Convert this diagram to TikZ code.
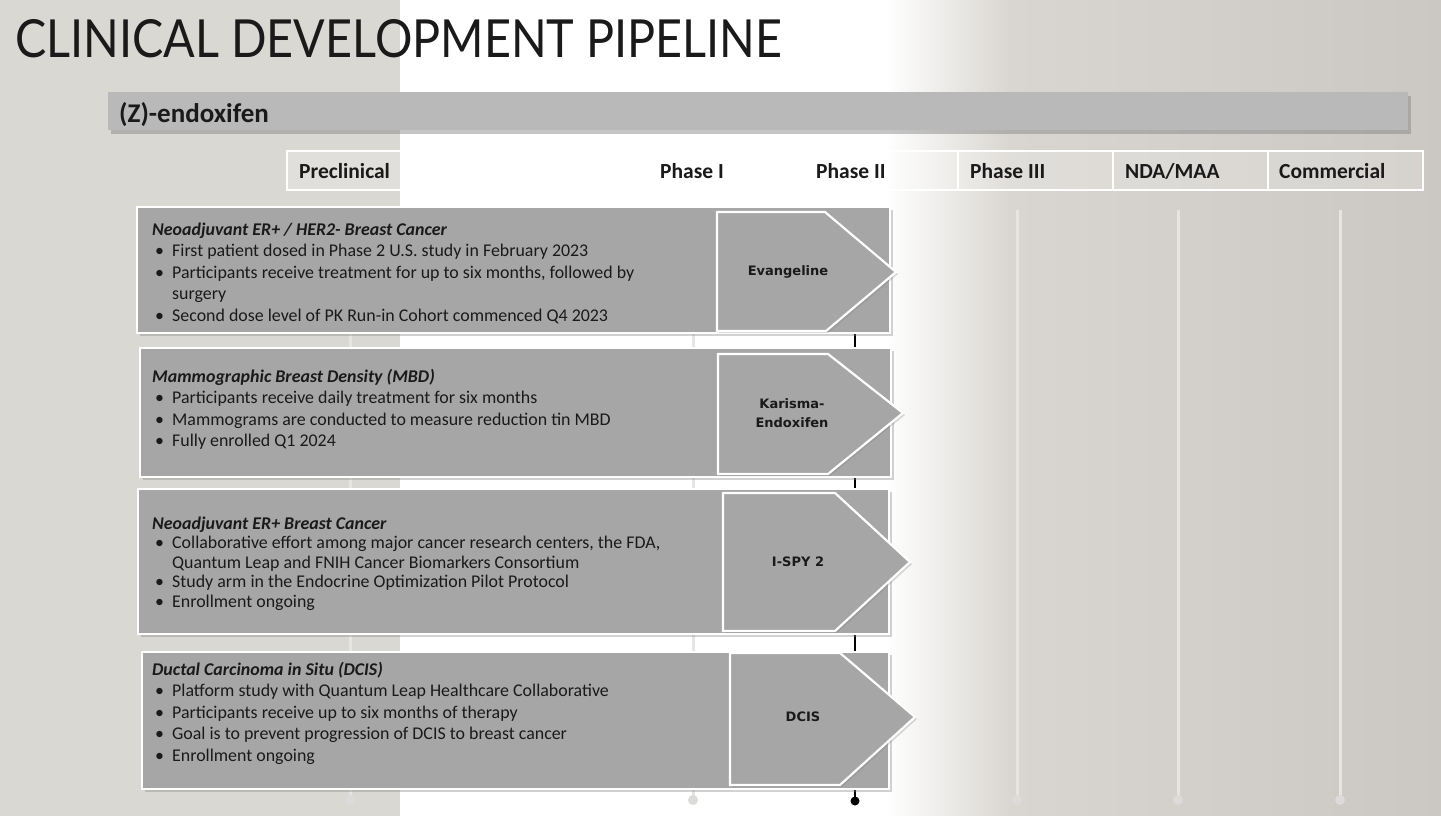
\documentclass[tikz,border=0pt]{standalone}
\usepackage{graphicx}
\usepackage{fontspec}
\setmainfont{Carlito}
\newfontfamily\titlefont{Lato}
\newfontfamily\chevfont{DejaVu Sans}
\usetikzlibrary{shadows}
\definecolor{bgleft}{HTML}{DAD8D3}
\definecolor{bgmid}{HTML}{D9D6D1}
\definecolor{bgright}{HTML}{CBC8C3}
\definecolor{panelgray}{HTML}{A6A6A6}
\definecolor{bargray}{HTML}{B9B9B9}
\definecolor{tlgray}{HTML}{E6E5E3}
\definecolor{ink}{HTML}{1A1A1A}
\newcommand\phd[1]{\hbox{\bfseries\itshape #1}}
\newcommand\pbl[1]{\hbox{\hspace*{3pt}\makebox[17pt][l]{\textbullet}#1}}
\newcommand\pcn[1]{\hbox{\hspace*{20pt}#1}}
\newcommand\plines[2]{\vtop{\baselineskip=#1pt #2}}
\begin{document}
\begin{tikzpicture}[x=1pt,y=-1pt,
  panel/.style={fill=panelgray, draw=white, line width=2pt,
    drop shadow={shadow xshift=3pt, shadow yshift=-3pt, opacity=0.35}},
  chev/.style={fill=panelgray, draw=white, line width=2.2pt, line join=miter,
    drop shadow={shadow xshift=2pt, shadow yshift=-2pt, opacity=0.3}},
  cell/.style={draw=white, line width=1.5pt, fill=white, fill opacity=0.2},
  tline/.style={draw=tlgray, line width=3pt},
  txt/.style={inner sep=0pt, text=ink, font=\fontsize{17.9}{21.5}\selectfont},
  phase/.style={inner sep=0pt, anchor=base west, text=ink, font=\bfseries\fontsize{21.5}{24}\selectfont},
  chevlabel/.style={inner sep=0pt, text=ink, align=center, font=\chevfont\bfseries\fontsize{13}{19}\selectfont}
]
\useasboundingbox (0,0) rectangle (1441,816);
% background
\fill[white] (0,0) rectangle (1441,816);
\fill[bgleft] (0,0) rectangle (400,816);
\shade[left color=white, right color=bgmid] (885,0) rectangle (1010,816);
\shade[left color=bgmid, right color=bgright] (1010,0) rectangle (1441,816);

% title
\node[anchor=base west, inner sep=0pt, text=ink] (title) at (15,58)
  {\resizebox{767pt}{38pt}{\titlefont CLINICAL DEVELOPMENT PIPELINE}};

% header bar
\path[fill=bargray, drop shadow={shadow xshift=3pt, shadow yshift=-4pt, opacity=0.45}] (108,92) rectangle (1408,130);
\node[anchor=base west, inner sep=0pt, text=ink, font=\bfseries\fontsize{27}{30}\selectfont] (drug) at (119,122) {(Z)-endoxifen};

% phase row
\path[cell] (287,151) rectangle (648,190);
\path[cell] (648,151) rectangle (804,190);
\path[cell] (804,151) rectangle (958,190);
\path[cell] (958,151) rectangle (1113,190);
\path[cell] (1113,151) rectangle (1268,190);
\path[cell] (1268,151) rectangle (1423,190);
\node[phase] (pre) at (299,178) {Preclinical};
\node[phase] (p1) at (660,178) {Phase I};
\node[phase] (p2) at (816,178) {Phase II};
\node[phase] (p3) at (970,178) {Phase III};
\node[phase] (nda) at (1125,178) {NDA/MAA};
\node[phase] (com) at (1279,178) {Commercial};

% timeline lines
\foreach \x in {350,693,1017,1178,1340}{
  \draw[tline] (\x,210) -- (\x,800);
  \fill[tlgray!90!gray] (\x,800) circle (5);
}
\draw[black, line width=2.5pt] (855,210) -- (855,800);
\fill[black] (855,801) circle (4.5);

% panel 1
\path[panel] (137,207) rectangle (890,333);
\node[txt, anchor=base west] (t1) at (152,235) {\plines{21.5}{%
  \phd{Neoadjuvant ER+ / HER2- Breast Cancer}
  \pbl{First patient dosed in Phase 2 U.S. study in February 2023}
  \pbl{Participants receive treatment for up to six months, followed by}
  \pcn{surgery}
  \pbl{Second dose level of PK Run-in Cohort commenced Q4 2023}}};
\path[chev] (717,212) -- (825,212) -- (896,272) -- (826,331) -- (717,331) -- cycle;
\node[chevlabel] (c1) at (788,272) {Evangeline};

% panel 2
\path[panel] (140,348) rectangle (891,477);
\node[txt, anchor=base west] (t2) at (152,382) {\plines{21.5}{%
  \phd{Mammographic Breast Density (MBD)}
  \pbl{Participants receive daily treatment for six months}
  \pbl{Mammograms are conducted to measure reduction tin MBD}
  \pbl{Fully enrolled Q1 2024}}};
\path[chev] (718,354) -- (828,354) -- (903,413) -- (828,474) -- (718,474) -- cycle;
\node[chevlabel] (c2) at (792,413) {Karisma-\\Endoxifen};

% panel 3
\path[panel] (138,489) rectangle (889,634);
\node[txt, anchor=base west] (t3) at (152,529) {\plines{19.5}{%
  \phd{Neoadjuvant ER+ Breast Cancer}
  \pbl{Collaborative effort among major cancer research centers, the FDA,}
  \pcn{Quantum Leap and FNIH Cancer Biomarkers Consortium}
  \pbl{Study arm in the Endocrine Optimization Pilot Protocol}
  \pbl{Enrollment ongoing}}};
\path[chev] (723,493) -- (835,493) -- (910,562) -- (835,631) -- (723,631) -- cycle;
\node[chevlabel] (c3) at (798,562) {I-SPY 2};

% panel 4
\path[panel] (142,652) rectangle (889,789);
\node[txt, anchor=base west] (t4) at (152,675) {\plines{21.5}{%
  \phd{Ductal Carcinoma in Situ (DCIS)}
  \pbl{Platform study with Quantum Leap Healthcare Collaborative}
  \pbl{Participants receive up to six months of therapy}
  \pbl{Goal is to prevent progression of DCIS to breast cancer}
  \pbl{Enrollment ongoing}}};
\path[chev] (730,653) -- (840,653) -- (915,717) -- (840,785) -- (730,785) -- cycle;
\node[chevlabel] (c4) at (803,717) {DCIS};
\end{tikzpicture}
\end{document}
